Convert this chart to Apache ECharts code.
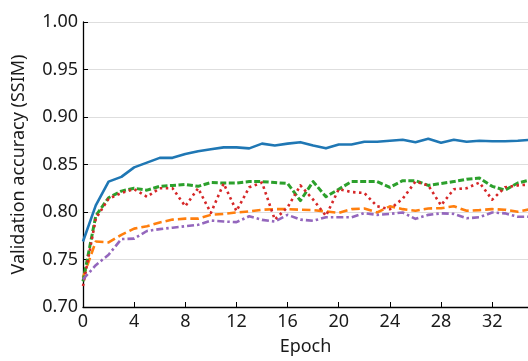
<!DOCTYPE html>
<html>
<head>
<meta charset="utf-8">
<script src="https://cdn.jsdelivr.net/npm/echarts@6/dist/echarts.min.js"></script>
<style>
html,body{margin:0;padding:0;background:#fff;}
#chart{width:528px;height:361px;}
</style>
</head>
<body>
<div id="chart"></div>
<script>
const epochs = [0,1,2,3,4,5,6,7,8,9,10,11,12,13,14,15,16,17,18,19,20,21,22,23,24,25,26,27,28,29,30,31,32,33,34,35];
const blueValues = [0.769,0.807,0.832,0.837,0.847,0.852,0.857,0.857,0.861,0.864,0.866,0.868,0.868,0.867,0.872,0.870,0.872,0.8735,0.870,0.867,0.871,0.871,0.874,0.874,0.875,0.876,0.8735,0.877,0.873,0.876,0.874,0.875,0.8745,0.8745,0.875,0.876];
const orangeValues = [0.731,0.769,0.768,0.776,0.7825,0.785,0.789,0.792,0.793,0.793,0.797,0.798,0.7995,0.8006,0.8024,0.803,0.803,0.8024,0.802,0.8006,0.799,0.803,0.8037,0.7995,0.806,0.803,0.8013,0.8037,0.804,0.806,0.8013,0.802,0.803,0.8024,0.8003,0.803];
const greenValues = [0.727,0.796,0.815,0.822,0.825,0.823,0.827,0.828,0.829,0.827,0.831,0.8305,0.8305,0.832,0.832,0.831,0.830,0.812,0.832,0.816,0.824,0.832,0.832,0.832,0.826,0.833,0.833,0.828,0.830,0.832,0.8345,0.8357,0.827,0.823,0.8305,0.834];
const redValues = [0.722,0.793,0.814,0.820,0.824,0.816,0.825,0.825,0.806,0.825,0.799,0.830,0.801,0.826,0.831,0.792,0.805,0.828,0.813,0.796,0.824,0.821,0.820,0.806,0.803,0.814,0.832,0.828,0.807,0.824,0.825,0.831,0.813,0.826,0.828,0.829];
const purpleValues = [0.729,0.744,0.755,0.7715,0.772,0.780,0.782,0.7835,0.785,0.7865,0.791,0.790,0.7893,0.7955,0.7917,0.790,0.797,0.792,0.7907,0.7945,0.7945,0.7945,0.7988,0.797,0.798,0.7995,0.7928,0.797,0.7986,0.798,0.7934,0.7945,0.7995,0.7986,0.795,0.795];
const yTicks = [0.70,0.75,0.80,0.85,0.90,0.95,1.00];
const xTicks = [0,4,8,12,16,20,24,28,32];

const pairs = vals => epochs.map((e,i) => [e, vals[i]]);
const FONT = '"Noto Sans", sans-serif';
const TXT = '#1a1a1a';

const chart = echarts.init(document.getElementById('chart'), null, {renderer:'canvas'});
function mk(data, color, width, type) {
  return {
    type:'line', data: pairs(data), showSymbol:false, symbol:'none', smooth:false,
    lineStyle:{color:color, width:width, type:type, cap:'butt', join:'round'},
    emphasis:{disabled:true}, animation:false, clip:true
  };
}
chart.setOption({
  animation:false,
  backgroundColor:'#fff',
  grid:{left:83, right:0, top:22, bottom:48, containLabel:false},
  xAxis:{
    type:'value', min:0, max:34.8, interval:4,
    name:'Epoch', nameLocation:'middle', nameGap:31,
    nameTextStyle:{fontFamily:FONT, fontSize:18, color:TXT},
    axisLine:{show:true, onZero:false, lineStyle:{color:'#000', width:1.3}},
    axisTick:{show:true, inside:true, length:5, lineStyle:{color:'#000', width:1}},
    axisLabel:{fontFamily:FONT, fontSize:18, color:TXT, margin:6, showMaxLabel:false,
      formatter: v => xTicks.includes(v) ? String(v) : ''},
    splitLine:{show:false}
  },
  yAxis:{
    type:'value', min:0.70, max:1.00, interval:0.05,
    name:'Validation accuracy (SSIM)', nameLocation:'middle', nameGap:55,
    nameTextStyle:{fontFamily:FONT, fontSize:18, color:TXT},
    axisLine:{show:true, onZero:false, lineStyle:{color:'#000', width:1.3}},
    axisTick:{show:true, inside:true, length:5, lineStyle:{color:'#000', width:1}},
    axisLabel:{fontFamily:FONT, fontSize:18, color:TXT, margin:5,
      formatter: v => { const t = yTicks.find(y => Math.abs(y - v) < 1e-6); return t === undefined ? '' : t.toFixed(2); }},
    splitLine:{show:true, lineStyle:{color:'#dedede', width:1}}
  },
  series:[
    mk(blueValues, '#1f77b4', 2.6, 'solid'),
    mk(orangeValues, '#ff7f0e', 2.6, [8.5,4]),
    mk(greenValues, '#2ca02c', 3, [6,2.5]),
    mk(redValues, '#d62728', 2.6, [2.5,3.5]),
    mk(purpleValues, '#9467bd', 2.6, [7,3,2.5,3])
  ]
});
</script>
</body>
</html>
